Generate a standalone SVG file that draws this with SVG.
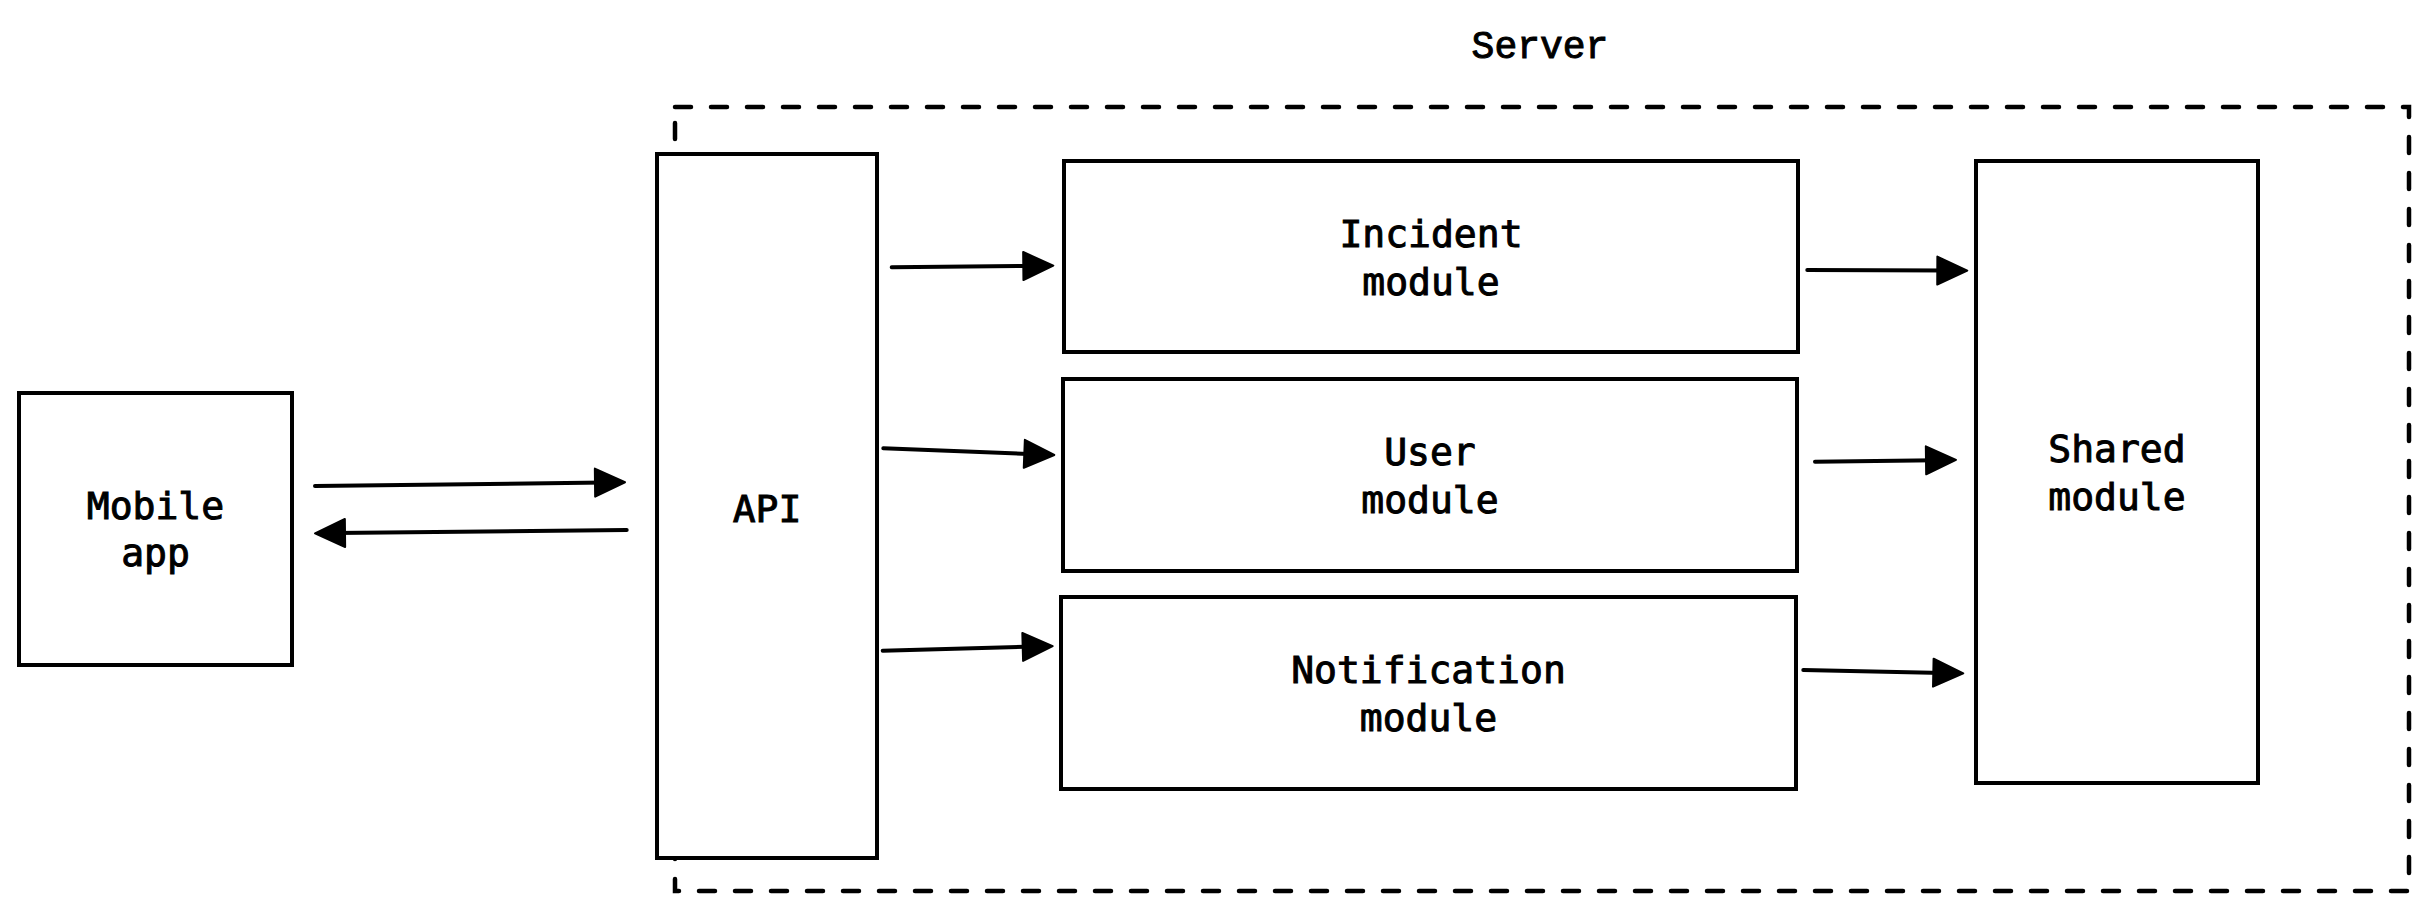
<svg xmlns="http://www.w3.org/2000/svg" width="2426" height="911" viewBox="0 0 2426 911">
<style>
.box{fill:#ffffff;stroke:#000000;stroke-width:4}
.lbl{font-family:"DejaVu Sans Mono","Liberation Mono",monospace;font-size:38px;fill:#000000;stroke:#000000;stroke-width:1;text-anchor:middle}
.title{font-family:"Liberation Mono","DejaVu Sans Mono",monospace;font-size:38px;fill:#000000;stroke:#000000;stroke-width:1;text-anchor:middle}
.frame{fill:none;stroke:#000000;stroke-width:4.5;stroke-dasharray:16 20;stroke-linecap:round}
.conn{fill:none;stroke:#000000;stroke-width:4;stroke-linecap:round}
</style>
<defs>
<marker id="ah" markerUnits="userSpaceOnUse" markerWidth="36" markerHeight="36" viewBox="-3 -18 36 36" refX="10" refY="0" orient="auto" overflow="visible">
<path d="M0,-14 L30,0 L0,14 Z" fill="#000000" stroke="#000000" stroke-width="2" stroke-linejoin="round"/>
</marker>
</defs>
<rect fill="#ffffff" x="0" y="0" width="2426" height="911"/>
<g id="server">
<rect class="frame" x="675" y="107" width="1734" height="784"/>
<text class="title" x="1540" y="58">Server</text>
</g>
<g id="mobile-app">
<rect class="box" x="19" y="393" width="273" height="272"/>
<text class="lbl" x="155.5" y="518.5">Mobile</text>
<text class="lbl" x="155.5" y="566">app</text>
</g>
<g id="api">
<rect class="box" x="657" y="154" width="220" height="704"/>
<text class="lbl" x="767" y="521.5">API</text>
</g>
<g id="incident-module">
<rect class="box" x="1064" y="161" width="734" height="191"/>
<text class="lbl" x="1431" y="247">Incident</text>
<text class="lbl" x="1431" y="295">module</text>
</g>
<g id="user-module">
<rect class="box" x="1063" y="379" width="734" height="192"/>
<text class="lbl" x="1430" y="465">User</text>
<text class="lbl" x="1430" y="513">module</text>
</g>
<g id="notification-module">
<rect class="box" x="1061" y="597" width="735" height="192"/>
<text class="lbl" x="1428.5" y="683">Notification</text>
<text class="lbl" x="1428.5" y="731">module</text>
</g>
<g id="shared-module">
<rect class="box" x="1976" y="161" width="282" height="622"/>
<text class="lbl" x="2117" y="462">Shared</text>
<text class="lbl" x="2117" y="510">module</text>
</g>
<g id="connectors">
<path class="conn" d="M315,486 L605,482.5" marker-end="url(#ah)"/>
<path class="conn" d="M626.7,530 L335,533.1" marker-end="url(#ah)"/>
<path class="conn" d="M891.7,267.3 L1033.3,265.9" marker-end="url(#ah)"/>
<path class="conn" d="M883.3,448.3 L1034.3,454.2" marker-end="url(#ah)"/>
<path class="conn" d="M882.7,650.7 L1032.7,646.6" marker-end="url(#ah)"/>
<path class="conn" d="M1807.3,270 L1947.3,270.6" marker-end="url(#ah)"/>
<path class="conn" d="M1815,461.7 L1936,460.2" marker-end="url(#ah)"/>
<path class="conn" d="M1803.3,670 L1943.3,672.9" marker-end="url(#ah)"/>
</g>
</svg>
